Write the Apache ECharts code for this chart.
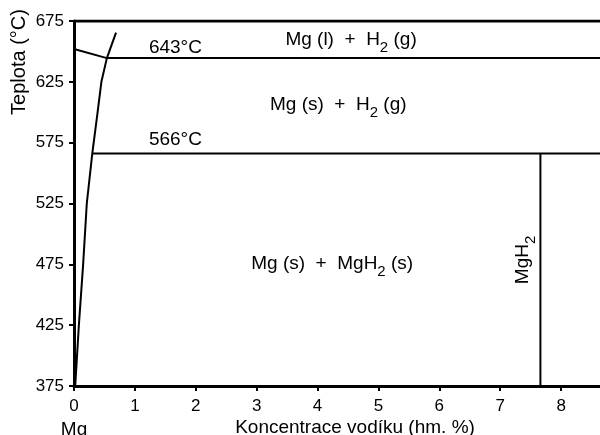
<!DOCTYPE html>
<html>
<head>
<meta charset="utf-8">
<script src="https://cdn.jsdelivr.net/npm/echarts@6/dist/echarts.min.js"></script>
<style>html,body{margin:0;padding:0;background:#fff;}#c{width:600px;height:435px;}</style>
</head>
<body>
<div id="c"></div>
<script>
// ---- data ----
const yTickValues = [375, 425, 475, 525, 575, 625, 675];
const xTickValues = [0, 1, 2, 3, 4, 5, 6, 7, 8, 9];
const xMax = 9;
const solvusCurve = [[0.02, 375], [0.08, 425], [0.15, 475], [0.21, 525], [0.30, 566], [0.38, 597], [0.45, 625], [0.54, 644.5]];
const meltingCurve = [[0.54, 644.5], [0.69, 665.5]];
const liquidusCurve = [[0, 652], [0.54, 644.5]];
const meltingIsotherm = [[0.54, 644.5], [9, 644.5]];
const eutectoidIsotherm = [[0.30, 566], [9, 566]];
const hydrideLine = [[7.66, 375], [7.66, 566]];
const topBorder = [[0, 675], [9, 675]];
const labelTexts = ['{n|Mg (l)  +  H}{s|2}{n| (g)}', '{n|Mg (s)  +  H}{s|2}{n| (g)}', '{n|Mg (s)  +  MgH}{s|2}{n| (s)}', '{n|643°C}', '{n|566°C}', '{n|MgH}{s|2}'];
const labelAnchors = [[4.55, 658.6], [4.34, 605.2], [4.24, 474.5], [1.23, 652], [1.23, 576.4], [7.40, 478.6]];
const xAxisTitle = 'Koncentrace vodíku (hm. %)';
const yAxisTitle = 'Teplota (°C)';
const originLabel = 'Mg';

const FONT = '"Liberation Sans", Arial, Helvetica, sans-serif';
const TXT = '#000';
const rich = {
  n: { fontSize: 19, lineHeight: 22, verticalAlign: 'top', fontFamily: FONT, color: TXT },
  s: { fontSize: 15, lineHeight: 15, padding: [10, 0, 0, 0], verticalAlign: 'top', fontFamily: FONT, color: TXT }
};
function lineSeries(data, w) {
  return { type: 'line', data: data, symbol: 'none', silent: true, lineStyle: { color: '#000', width: w || 2 }, z: 3 };
}
const labelItems = labelTexts.map(function (t, i) {
  const left = (i === 3 || i === 4);
  return {
    value: labelAnchors[i],
    label: {
      formatter: t,
      align: left ? 'left' : 'center',
      rotate: i === 5 ? 90 : 0
    }
  };
});

const chart = echarts.init(document.getElementById('c'), null, { renderer: 'canvas' });
chart.setOption({
  animation: false,
  backgroundColor: '#fff',
  grid: { left: 74, top: 21, width: 548, height: 365, containLabel: false, outerBoundsMode: 'none' },
  xAxis: {
    type: 'value', min: 0, max: xMax, interval: 1,
    axisLine: { show: true, lineStyle: { color: '#000', width: 3 } },
    axisTick: { show: true, inside: false, length: 5, lineStyle: { color: '#000', width: 2 } },
    axisLabel: {
      fontFamily: FONT, fontSize: 17, color: TXT, margin: 8, lineHeight: 24,
      formatter: function (v) { return v === 0 ? '0\n{m|' + originLabel + '}' : String(v); },
      rich: { m: { fontFamily: FONT, fontSize: 19, color: TXT, lineHeight: 24 } }
    },
    splitLine: { show: false }
  },
  yAxis: {
    type: 'value', min: 375, max: 675,
    axisLine: { show: true, lineStyle: { color: '#000', width: 3 } },
    axisTick: { show: true, length: 5, lineStyle: { color: '#000', width: 2 }, customValues: yTickValues },
    axisLabel: { fontFamily: FONT, fontSize: 17, color: TXT, margin: 10, customValues: yTickValues },
    splitLine: { show: false }
  },
  graphic: [{
    type: 'text', x: 19, y: 62, rotation: Math.PI / 2,
    style: { text: yAxisTitle, fontFamily: FONT, fontSize: 20, fill: TXT, align: 'center', verticalAlign: 'middle' }
  }, {
    type: 'text', x: 355, y: 428,
    style: { text: xAxisTitle, fontFamily: FONT, fontSize: 19, fill: TXT, align: 'center', verticalAlign: 'middle' }
  }],
  series: [
    lineSeries(topBorder, 3),
    lineSeries(solvusCurve),
    lineSeries(meltingCurve),
    lineSeries(liquidusCurve),
    lineSeries(meltingIsotherm),
    lineSeries(eutectoidIsotherm),
    lineSeries(hydrideLine),
    {
      type: 'scatter', symbolSize: 0, silent: true, z: 5,
      itemStyle: { opacity: 1, color: '#000' },
      data: labelItems,
      label: {
        show: true, position: 'inside', verticalAlign: 'middle', opacity: 1,
        textBorderWidth: 0, fontFamily: FONT, fontSize: 19, color: TXT, rich: rich
      }
    }
  ]
});
</script>
</body>
</html>
